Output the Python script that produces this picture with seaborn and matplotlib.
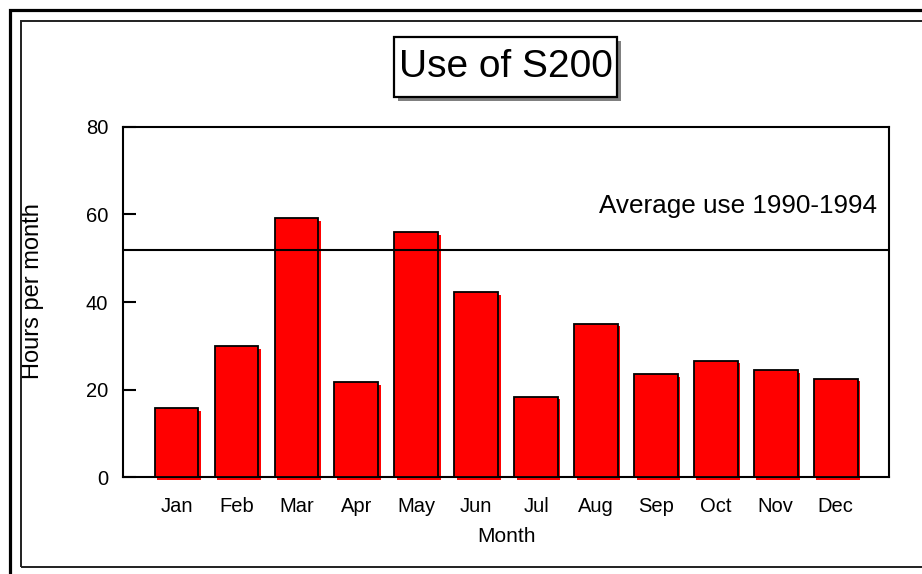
import matplotlib
matplotlib.use("Agg")
import matplotlib.pyplot as plt
import matplotlib.transforms as mtransforms
from matplotlib.patches import Rectangle
import pandas as pd
import seaborn as sns

# Monthly use of the S200 (hours per month)
months = ["Jan", "Feb", "Mar", "Apr", "May", "Jun",
          "Jul", "Aug", "Sep", "Oct", "Nov", "Dec"]
hours = [15.8, 29.9, 59.1, 21.7, 55.9, 42.2, 18.4, 35.0, 23.5, 26.6, 24.4, 22.5]
average_use = 51.8
average_label = "Average use 1990-1994"
y_ticks = [0, 20, 40, 60, 80]

sns.set_style("white")
plt.rcParams["font.family"] = ["Liberation Sans", "DejaVu Sans"]
plt.rcParams["text.color"] = "black"
plt.rcParams["axes.labelcolor"] = "black"
plt.rcParams["xtick.color"] = "black"
plt.rcParams["ytick.color"] = "black"

W, H = 922, 574
fig = plt.figure(figsize=(W / 100, H / 100), dpi=100)


def px_box(x0, y0, x1, y1):
    """Convert a pixel box (top-left origin) to figure coordinates."""
    return [x0 / W, 1 - y1 / H, (x1 - x0) / W, (y1 - y0) / H]


ax = fig.add_axes(px_box(123.3, 126.7, 889, 477.3))

df = pd.DataFrame({"Month": months, "Hours": hours})
sns.barplot(data=df, x="Month", y="Hours", order=months, color="#ff0000",
            saturation=1, width=0.73, edgecolor="black", linewidth=1.3,
            ax=ax, zorder=3)

# red drop shadow behind each bar
shadow_tf = mtransforms.offset_copy(ax.transData, fig=fig, x=2.5, y=-2.5, units="dots")
for bar in list(ax.patches):
    ax.add_patch(Rectangle(bar.get_xy(), bar.get_width(), bar.get_height(),
                           transform=shadow_tf, facecolor="#ff0000",
                           edgecolor="none", zorder=2, clip_on=False))

# reference line for the long-term average
ax.axhline(average_use, color="black", lw=1.5, zorder=4)
ax.text(0.984, 60.3, average_label, transform=ax.get_yaxis_transform(),
        ha="right", va="baseline", fontsize=18.8, zorder=5)

ax.set_xlim(-0.89, len(months) - 1 + 0.89)
ax.set_ylim(0, 80)
ax.set_yticks(y_ticks)

for side in ["left", "right", "top", "bottom"]:
    ax.spines[side].set_visible(True)
    ax.spines[side].set_color("black")
    ax.spines[side].set_linewidth(1.5)

ax.tick_params(axis="y", direction="in", length=9.5, width=1.5,
               labelsize=14.5, pad=11, left=True)
ax.tick_params(axis="x", length=0, labelsize=14.5, pad=14)

ax.set_xlabel("Month", fontsize=15)
ax.set_ylabel("Hours per month", fontsize=17)
ax.xaxis.set_label_coords(0.5, -0.142)
ax.yaxis.set_label_coords(-0.103, 0.53)

# page frames
fig.add_artist(Rectangle((9.5 / W, 1 - 600 / H), (950 - 9.5) / W, (600 - 9.5) / H,
                         transform=fig.transFigure, fill=False,
                         edgecolor="black", lw=2.3, clip_on=False))
fig.add_artist(Rectangle((20.5 / W, 1 - 567 / H), (950 - 20.5) / W, (567 - 20.5) / H,
                         transform=fig.transFigure, fill=False,
                         edgecolor="#202020", lw=1.4, clip_on=False))

# boxed title with grey shadow
tx0, ty0, tx1, ty1 = 394, 37, 617, 97
fig.add_artist(Rectangle(px_box(tx0 + 4, ty0 + 4, tx1 + 4, ty1 + 4)[:2],
                         (tx1 - tx0) / W, (ty1 - ty0) / H,
                         transform=fig.transFigure, facecolor="#808080",
                         edgecolor="none"))
fig.add_artist(Rectangle(px_box(tx0, ty0, tx1, ty1)[:2],
                         (tx1 - tx0) / W, (ty1 - ty0) / H,
                         transform=fig.transFigure, facecolor="white",
                         edgecolor="black", lw=1.6))
fig.text((tx0 + tx1) / 2 / W, 1 - 77 / H, "Use of S200", ha="center",
         va="baseline", fontsize=28)

fig.savefig("out.png", dpi=100, facecolor="white")
